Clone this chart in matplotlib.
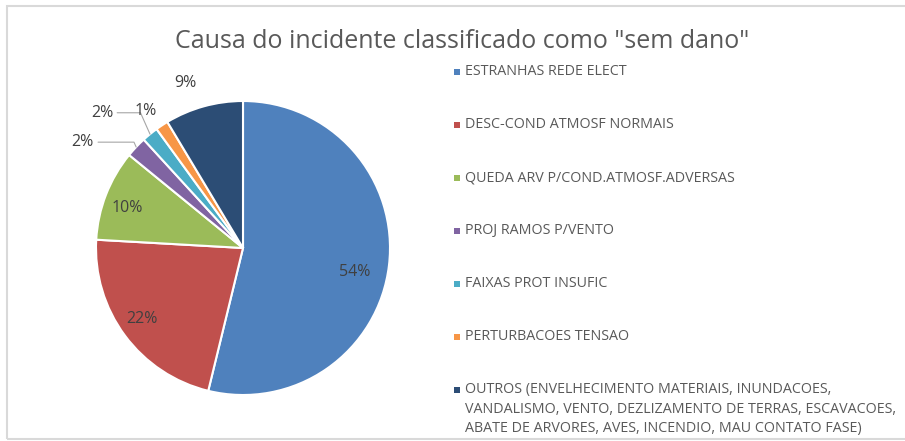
import numpy as np
import matplotlib
matplotlib.use("Agg")
import matplotlib.pyplot as plt
from matplotlib.patches import Rectangle

title = 'Causa do incidente classificado como "sem dano"'
categories = [
    "ESTRANHAS REDE ELECT",
    "DESC-COND ATMOSF NORMAIS",
    "QUEDA ARV P/COND.ATMOSF.ADVERSAS",
    "PROJ RAMOS P/VENTO",
    "FAIXAS PROT INSUFIC",
    "PERTURBACOES TENSAO",
    "OUTROS (ENVELHECIMENTO MATERIAIS, INUNDACOES,\nVANDALISMO, VENTO, DEZLIZAMENTO DE TERRAS, ESCAVACOES,\nABATE DE ARVORES, AVES, INCENDIO, MAU CONTATO FASE)",
]
values = [53.8, 22.1, 10.0, 2.3, 1.8, 1.4, 8.6]
colors = ["#4F81BD", "#C0504D", "#9BBB59", "#8064A2", "#4BACC6", "#F79646", "#2C4D75"]

# label placement (pie radius units) and which labels get a leader line
label_pos = [(0.76, -0.16), (-0.69, -0.485), (-0.79, 0.27), (-1.09, 0.72),
             (-0.96, 0.92), (-0.66, 0.93), (-0.39, 1.12)]
leader = [False, False, False, True, True, False, False]

plt.rcParams['font.family'] = ['Open Sans', 'DejaVu Sans']

W, H = 905, 441
fig = plt.figure(figsize=(W / 100, H / 100), dpi=100)

# chart area border
fig.add_artist(Rectangle((7 / W, 1 - 439 / H), 1.0, (439 - 6) / H, transform=fig.transFigure,
                         fill=False, edgecolor="#d9d9d9", lw=1.5))

fig.text(462 / W, 1 - 42 / H, title, ha="center", va="center", fontsize=18, color="#595959")

cx, cy, r = 243, 248, 147
ax = fig.add_axes([(cx - r) / W, (H - cy - r) / H, 2 * r / W, 2 * r / H])
wedges, _ = ax.pie(values, colors=colors, startangle=90, counterclock=False, radius=1,
                   wedgeprops=dict(edgecolor="white", linewidth=1.5))
ax.set_xlim(-1, 1)
ax.set_ylim(-1, 1)

for w, v, pos, lead in zip(wedges, values, label_pos, leader):
    txt = f"{round(v)}%"
    if lead:
        mid = np.deg2rad((w.theta1 + w.theta2) / 2)
        ax.annotate(txt, xy=(np.cos(mid), np.sin(mid)), xytext=pos, ha="center", va="center",
                    fontsize=11.5, color="#404040", annotation_clip=False,
                    arrowprops=dict(arrowstyle="-", color="#a6a6a6", lw=0.8, shrinkA=1, shrinkB=0,
                                    connectionstyle="angle,angleA=0,angleB=-66,rad=0"))
    else:
        ax.text(pos[0], pos[1], txt, ha="center", va="center", fontsize=11.5, color="#404040")

# legend
lx, ly0, step = 454, 72, 53
for i, (lab, c) in enumerate(zip(categories, colors)):
    y = ly0 + i * step
    fig.add_artist(Rectangle((lx / W, 1 - (y + 3) / H), 6 / W, 6 / H, transform=fig.transFigure,
                             facecolor=c, edgecolor="none"))
    fig.text(465 / W, 1 - (y - 8) / H, lab, ha="left", va="top", fontsize=10.3,
             color="#595959", linespacing=1.42)

fig.savefig("out.png", dpi=100)
